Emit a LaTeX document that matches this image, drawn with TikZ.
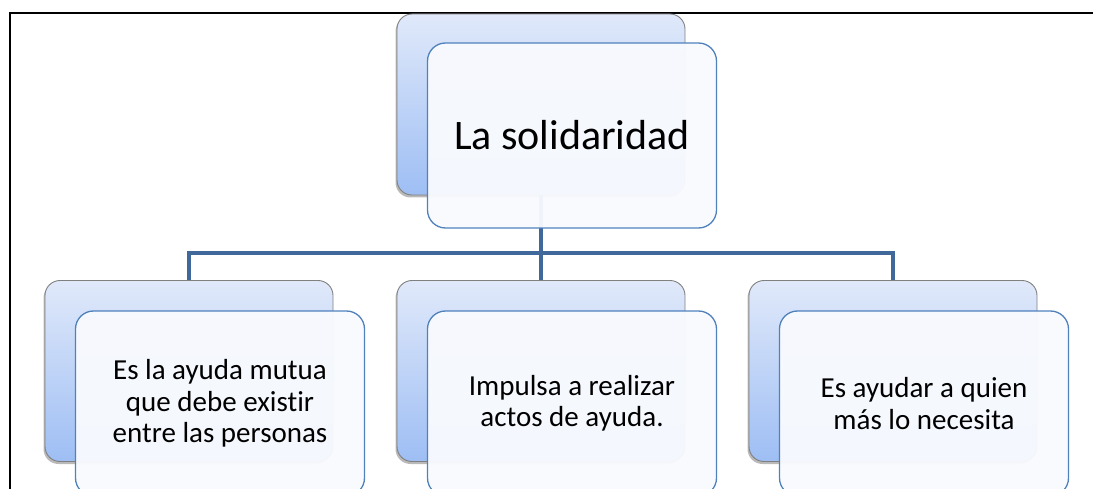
\documentclass[tikz,border=0pt]{standalone}
\usepackage{fontspec}
\setmainfont{Carlito}[Ligatures=NoCommon]
\usetikzlibrary{shadows}

\definecolor{backTop}{HTML}{E0E9FA}
\definecolor{backBottom}{HTML}{9EBEF4}
\definecolor{backLine}{HTML}{808080}
\definecolor{frontFill}{HTML}{F8FAFE}
\definecolor{frontLine}{HTML}{4F81BD}
\definecolor{busLine}{HTML}{41689A}

\tikzset{
  backbox/.style={rectangle, rounded corners=15pt, draw=backLine, line width=0.9pt,
    top color=backTop, bottom color=backBottom, minimum width=288pt, minimum height=181pt,
    drop shadow={shadow xshift=-1.5pt, shadow yshift=-2.5pt, opacity=0.55}},
  frontbox/.style={rectangle, rounded corners=18pt, draw=frontLine, line width=1.3pt,
    fill=frontFill, fill opacity=0.96, text opacity=1, minimum width=289pt, minimum height=185pt,
    align=center, font=\fontsize{29}{31.5}\selectfont},
  bus/.style={draw=busLine, line width=4pt}
}

\begin{document}
\begin{tikzpicture}[x=1pt, y=-1pt]
  \useasboundingbox (0,0) rectangle (1093,489);

  % frame
  \draw[line width=2pt] (10,489) -- (10,13.5) -- (1093,13.5);

  % back boxes
  \node[backbox] (rootBack) at (541,104.5) {};
  \node[backbox] (leftBack) at (189,371) {};
  \node[backbox] (midBack) at (541,371) {};
  \node[backbox] (rightBack) at (893,371) {};

  % connectors
  \coordinate (bus) at (541,253);
  \draw[bus] (rootBack.south) -- (bus);
  \draw[bus] (leftBack.north) |- (bus);
  \draw[bus] (midBack.north) -- (bus);
  \draw[bus] (rightBack.north) |- (bus);

  % front boxes
  \node[frontbox, xshift=31pt, yshift=-31pt, font=\fontsize{42}{48}\selectfont] (root) at (rootBack) {La solidaridad};
  \node[frontbox, xshift=31pt, yshift=-32.5pt] (left) at (leftBack) {Es la ayuda mutua\\ que debe existir\\ entre las personas};
  \node[frontbox, xshift=31pt, yshift=-32.5pt] (mid) at (midBack) {Impulsa a realizar\\ actos de ayuda.};
  \node[frontbox, xshift=31pt, yshift=-32.5pt] (right) at (rightBack) {Es ayudar a quien\\ más lo necesita};
\end{tikzpicture}
\end{document}
